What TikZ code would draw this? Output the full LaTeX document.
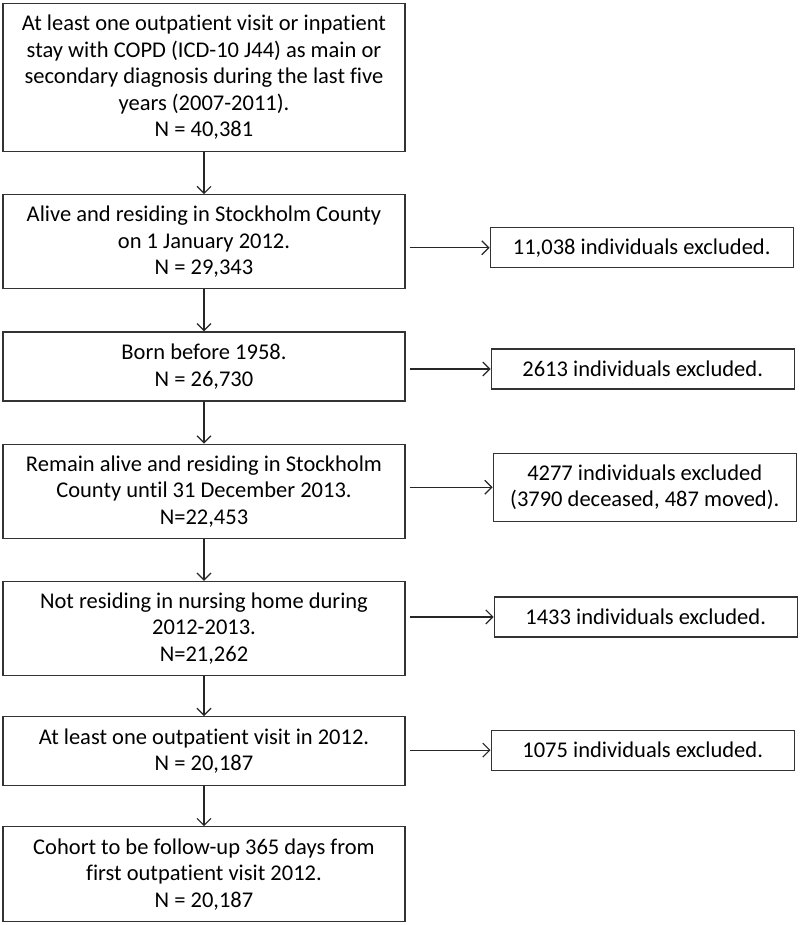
\documentclass[tikz,border=0pt]{standalone}
\usepackage{fontspec}
\setmainfont{Carlito}[Ligatures=NoCommon]
\usetikzlibrary{arrows.meta,positioning}

\begin{document}
\begin{tikzpicture}[>={Straight Barb[length=7pt,width=14pt]},node distance=42pt,
	line width=1.2pt,draw=black!85,
	main node/.style={rectangle,draw=black!80,align=center,minimum width=402pt,
		minimum height=94pt,inner xsep=6pt,inner ysep=2pt,font=\fontsize{22.5}{26.5}\selectfont},
	side node/.style={rectangle,draw=black!80,align=center,minimum width=303pt,
		minimum height=40pt,inner xsep=6pt,inner ysep=2pt,font=\fontsize{22.5}{26.5}\selectfont}]

	\useasboundingbox (0,0) rectangle (800pt,-925pt);

	\node[main node,anchor=north,minimum height=148pt] (0) at (204pt,-3pt) {At least one outpatient visit or inpatient\\stay with COPD (ICD-10 J44) as main or\\secondary diagnosis during the last five\\years (2007-2011).\\N = 40,381};
	\node[main node] (1) [below=of 0] {Alive and residing in Stockholm County\\on 1 January 2012.\\N = 29,343};
	\node[main node,minimum height=69pt] (2) [below=of 1] {Born before 1958.\\N = 26,730};
	\node[main node] (3) [below=of 2] {Remain alive and residing in Stockholm\\County until 31 December 2013.\\N=22,453};
	\node[main node] (4) [below=of 3] {Not residing in nursing home during\\2012-2013.\\N=21,262};
	\node[main node,minimum height=69pt] (5) [below=40pt of 4] {At least one outpatient visit in 2012.\\N = 20,187};
	\node[main node,minimum height=95pt] (6) [below=40pt of 5] {Cohort to be follow-up 365 days from\\first outpatient visit 2012.\\N = 20,187};

	\node[side node] (1x) [right=84pt of 1,yshift=-6pt] {11,038 individuals excluded.};
	\node[side node] (2x) [right=85pt of 2,yshift=-2.5pt] {2613 individuals excluded.};
	\node[side node,minimum height=68pt] (3x) [right=87pt of 3,yshift=4pt] {4277 individuals excluded\\(3790 deceased, 487 moved).};
	\node[side node] (4x) [right=88pt of 4,yshift=11.5pt] {1433 individuals excluded.};
	\node[side node] (5x) [right=85pt of 5,yshift=1pt] {1075 individuals excluded.};

	% main flow
	\path[->]
	(0) edge (1)
	(1) edge (2)
	(2) edge (3)
	(3) edge (4)
	(4) edge (5)
	(5) edge (6);

	% exclusions
	\foreach \n in {1,...,5}
		\draw[->,shorten <=4pt] (\n.east |- \n x.west) -- (\n x.west);
\end{tikzpicture}
\end{document}
